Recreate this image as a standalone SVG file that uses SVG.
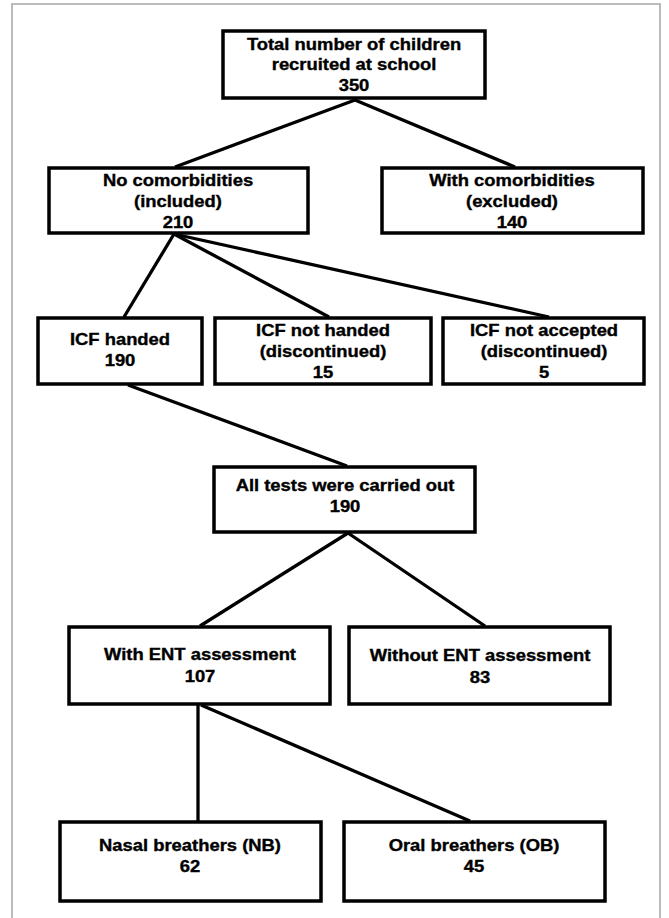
<svg xmlns="http://www.w3.org/2000/svg" width="669" height="918" viewBox="0 0 669 918">
<style>
.frame{fill:none;stroke:#a6a6a6;stroke-width:1.5}
.box{fill:#fff;stroke:#000;stroke-width:3.5}
.conn line{stroke:#000;stroke-width:3.3;stroke-linecap:butt}
text{font-family:"Liberation Sans",Arial,sans-serif;font-weight:bold;font-size:16px;fill:#000;stroke:#000;stroke-width:0.35;text-anchor:middle}
</style>
<rect width="669" height="918" fill="#fff"/>
<rect class="frame" x="12" y="4" width="648" height="930"/>
<g id="connectors" class="conn">
<line x1="355" y1="100" x2="175" y2="167"/>
<line x1="355" y1="100" x2="515" y2="167"/>
<line x1="174" y1="234" x2="124" y2="317"/>
<line x1="174" y1="234" x2="329" y2="317"/>
<line x1="174" y1="234" x2="549" y2="317"/>
<line x1="128" y1="385" x2="347" y2="466"/>
<line x1="348" y1="533" x2="200" y2="626"/>
<line x1="348" y1="533" x2="485" y2="626"/>
<line x1="198" y1="705" x2="198" y2="821"/>
<line x1="201" y1="705" x2="470" y2="821"/>
</g>
<g id="n-total">
<rect class="box" x="223" y="31" width="262" height="67"/>
<text transform="translate(354,50) scale(1.15,1)">Total number of children</text>
<text transform="translate(354,70) scale(1.15,1)">recruited at school</text>
<text transform="translate(354,91) scale(1.15,1)">350</text>
</g>
<g id="n-nocomorb">
<rect class="box" x="49" y="168" width="259" height="65"/>
<text transform="translate(178,186) scale(1.15,1)">No comorbidities</text>
<text transform="translate(178,207) scale(1.15,1)">(included)</text>
<text transform="translate(178,228) scale(1.15,1)">210</text>
</g>
<g id="n-withcomorb">
<rect class="box" x="382" y="168" width="261" height="65"/>
<text transform="translate(512,186) scale(1.15,1)">With comorbidities</text>
<text transform="translate(512,207) scale(1.15,1)">(excluded)</text>
<text transform="translate(512,228) scale(1.15,1)">140</text>
</g>
<g id="n-icf-handed">
<rect class="box" x="38" y="318" width="164" height="66"/>
<text transform="translate(120,345) scale(1.15,1)">ICF handed</text>
<text transform="translate(120,366) scale(1.15,1)">190</text>
</g>
<g id="n-icf-not-handed">
<rect class="box" x="215" y="318" width="216" height="66"/>
<text transform="translate(323,336) scale(1.15,1)">ICF not handed</text>
<text transform="translate(323,357) scale(1.15,1)">(discontinued)</text>
<text transform="translate(323,378) scale(1.15,1)">15</text>
</g>
<g id="n-icf-not-accepted">
<rect class="box" x="443" y="318" width="201" height="66"/>
<text transform="translate(544,336) scale(1.15,1)">ICF not accepted</text>
<text transform="translate(544,357) scale(1.15,1)">(discontinued)</text>
<text transform="translate(544,378) scale(1.15,1)">5</text>
</g>
<g id="n-alltests">
<rect class="box" x="214" y="467" width="261" height="65"/>
<text transform="translate(345,491) scale(1.15,1)">All tests were carried out</text>
<text transform="translate(345,512) scale(1.15,1)">190</text>
</g>
<g id="n-with-ent">
<rect class="box" x="69" y="627" width="261" height="77"/>
<text transform="translate(200,660) scale(1.15,1)">With ENT assessment</text>
<text transform="translate(200,682) scale(1.15,1)">107</text>
</g>
<g id="n-without-ent">
<rect class="box" x="349" y="627" width="261" height="77"/>
<text transform="translate(480,661) scale(1.15,1)">Without ENT assessment</text>
<text transform="translate(480,683) scale(1.15,1)">83</text>
</g>
<g id="n-nasal">
<rect class="box" x="60" y="822" width="261" height="79"/>
<text transform="translate(190,851) scale(1.15,1)">Nasal breathers (NB)</text>
<text transform="translate(190,872) scale(1.15,1)">62</text>
</g>
<g id="n-oral">
<rect class="box" x="344" y="822" width="261" height="79"/>
<text transform="translate(474,851) scale(1.15,1)">Oral breathers (OB)</text>
<text transform="translate(474,872) scale(1.15,1)">45</text>
</g>
</svg>
